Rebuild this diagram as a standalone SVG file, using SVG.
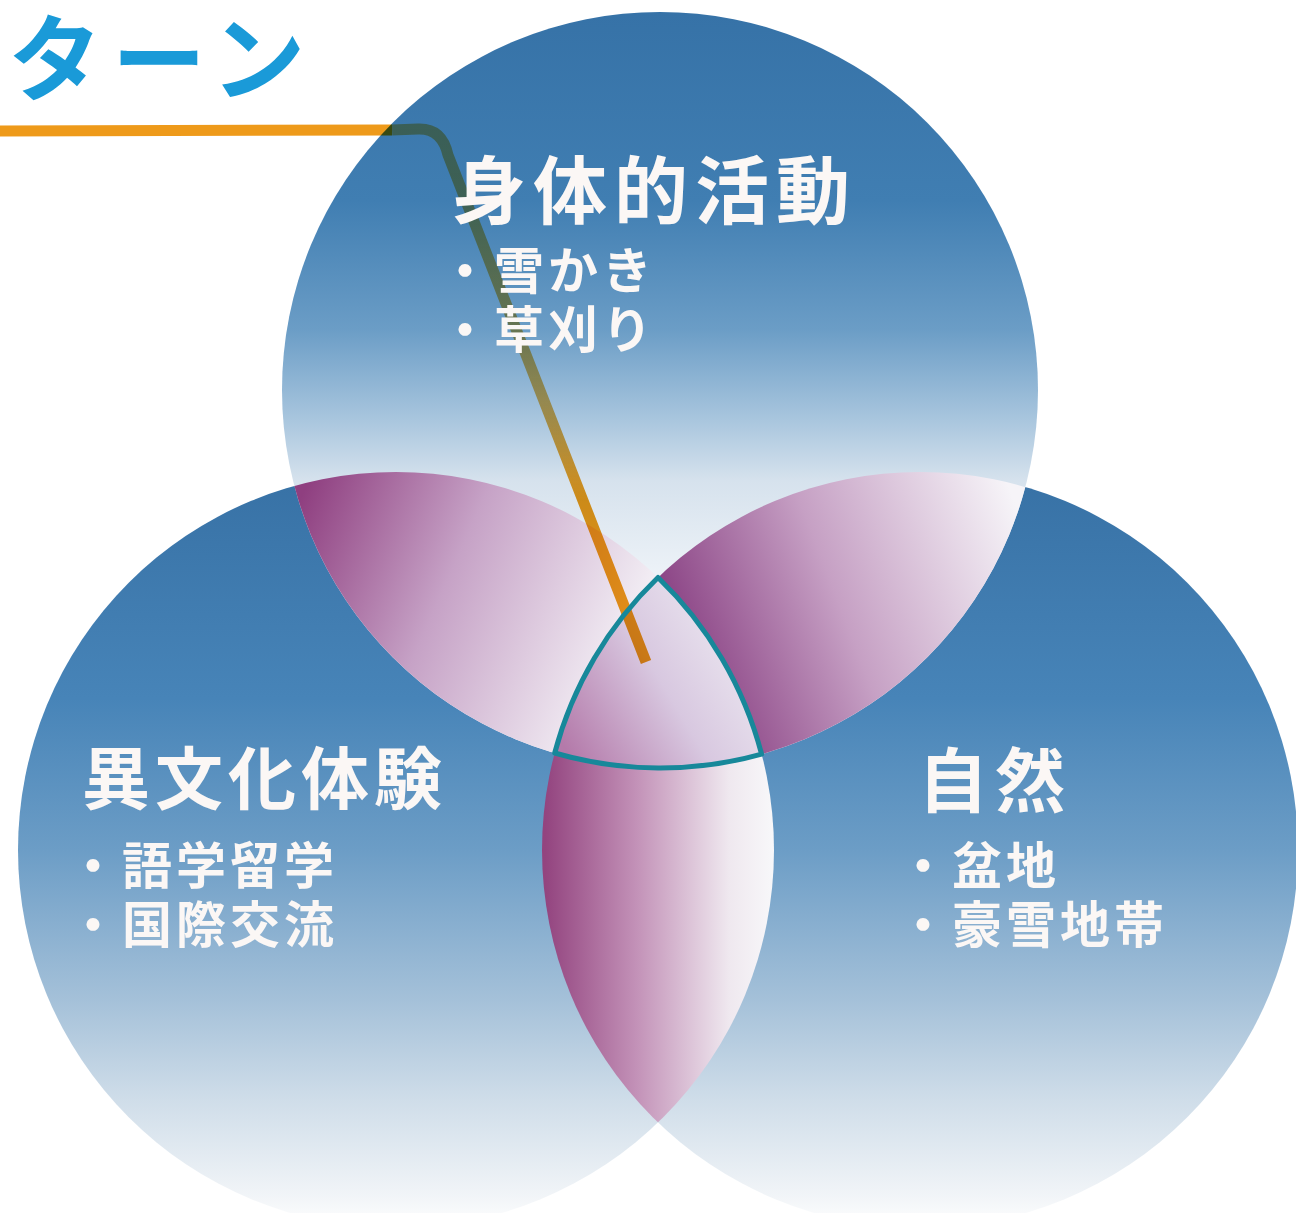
<svg xmlns="http://www.w3.org/2000/svg" width="1296" height="1213" viewBox="0 0 1296 1213">
  <style>
    .title { font-family: "Noto Sans CJK JP", "Noto Sans", sans-serif; font-weight: 700; fill: #1a9ad8; }
    .head { font-family: "Noto Sans CJK JP", "Noto Sans", sans-serif; font-weight: 700; fill: #fbf7f5; }
    .item { font-family: "Noto Sans CJK JP", "Noto Sans", sans-serif; font-weight: 700; fill: #fbf7f5; font-size: 50px; letter-spacing: 4px; }
    .line { fill: none; stroke-width: 11; mix-blend-mode: multiply; }
  </style>
  <defs>
    <linearGradient id="gTop" x1="0" y1="0" x2="0" y2="1">
      <stop offset="0" stop-color="#3672a7"/>
      <stop offset="0.25" stop-color="#407eb2"/>
      <stop offset="0.42" stop-color="#6b9dc6"/>
      <stop offset="0.54" stop-color="#a9c6de"/>
      <stop offset="0.62" stop-color="#d6e2ed"/>
      <stop offset="0.75" stop-color="#eef3f8"/>
      <stop offset="1" stop-color="#f8fafc"/>
    </linearGradient>
    <linearGradient id="gSide" x1="0" y1="0" x2="0" y2="1">
      <stop offset="0" stop-color="#3771a5"/>
      <stop offset="0.3" stop-color="#4784b8"/>
      <stop offset="0.5" stop-color="#6c9dc6"/>
      <stop offset="0.7" stop-color="#a5c1d9"/>
      <stop offset="0.83" stop-color="#cfdde9"/>
      <stop offset="0.96" stop-color="#f2f5f8"/>
      <stop offset="1" stop-color="#ffffff"/>
    </linearGradient>
    <linearGradient id="gTL" gradientUnits="userSpaceOnUse" x1="300" y1="500" x2="640" y2="650">
      <stop offset="0" stop-color="#8f3f80"/>
      <stop offset="0.45" stop-color="#c6a2c6"/>
      <stop offset="1" stop-color="#f6f4f8"/>
    </linearGradient>
    <linearGradient id="gTR" gradientUnits="userSpaceOnUse" x1="670" y1="620" x2="1010" y2="490">
      <stop offset="0" stop-color="#8a4284"/>
      <stop offset="0.45" stop-color="#c6a0c4"/>
      <stop offset="1" stop-color="#f6f4f8"/>
    </linearGradient>
    <linearGradient id="gB" gradientUnits="userSpaceOnUse" x1="545" y1="850" x2="775" y2="850">
      <stop offset="0" stop-color="#93447f"/>
      <stop offset="0.4" stop-color="#c392b8"/>
      <stop offset="0.8" stop-color="#efe8ef"/>
      <stop offset="1" stop-color="#f8f8fa"/>
    </linearGradient>
    <linearGradient id="gC" gradientUnits="userSpaceOnUse" x1="560" y1="740" x2="760" y2="620">
      <stop offset="0" stop-color="#b47aaa"/>
      <stop offset="0.5" stop-color="#d8c8e0"/>
      <stop offset="1" stop-color="#f0eef4"/>
    </linearGradient>
    <linearGradient id="gLine" gradientUnits="userSpaceOnUse" x1="0" y1="120" x2="0" y2="680">
      <stop offset="0" stop-color="#ee9a1a" stop-opacity="0.55"/>
      <stop offset="0.5" stop-color="#ee9a1a" stop-opacity="0.7"/>
      <stop offset="0.68" stop-color="#ee9a1a" stop-opacity="1"/>
      <stop offset="1" stop-color="#ee9a1a" stop-opacity="1"/>
    </linearGradient>
    <clipPath id="clipL"><circle cx="396" cy="850" r="378"/></clipPath>
    <clipPath id="clipR"><circle cx="920" cy="850" r="378"/></clipPath>
  </defs>

  <rect width="1296" height="1213" fill="#ffffff"/>

  <g id="title">
    <text class="title" x="8" y="94" font-size="94" letter-spacing="10">ターン</text>
  </g>

  <g id="node-left">
    <circle cx="396" cy="850" r="378" fill="url(#gSide)"/>
  </g>
  <g id="node-right">
    <circle cx="920" cy="850" r="378" fill="url(#gSide)"/>
  </g>
  <g id="node-top">
    <circle cx="660" cy="390" r="378" fill="url(#gTop)"/>
  </g>

  <g id="overlaps">
    <circle cx="660" cy="390" r="378" fill="url(#gTL)" clip-path="url(#clipL)"/>
    <circle cx="660" cy="390" r="378" fill="url(#gTR)" clip-path="url(#clipR)"/>
    <circle cx="396" cy="850" r="378" fill="url(#gB)" clip-path="url(#clipR)"/>
    <path d="M658,577.5 A378,378 0 0 0 554.7,753 A378,378 0 0 0 761.6,754.1 A378,378 0 0 0 658,577.5 Z" fill="url(#gC)"/>
  </g>

  <g id="connectors">
    <path class="line" d="M0,131 L392,130" stroke="#ee9a1a" stroke-width="12"/>
    <path class="line" d="M392,130 L418,129 Q442,128 448,155 L646,662" stroke="url(#gLine)"/>
    <path d="M658,577.5 A378,378 0 0 0 554.7,753 A378,378 0 0 0 761.6,754.1 A378,378 0 0 0 658,577.5 Z" fill="none" stroke="#17889a" stroke-width="5" stroke-linejoin="round"/>
  </g>

  <g id="label-top">
    <text class="head" x="452" y="218" font-size="74" letter-spacing="7">身体的活動</text>
    <text class="item" x="440" y="289">・雪かき</text>
    <text class="item" x="440" y="348">・草刈り</text>
  </g>
  <g id="label-left">
    <text class="head" x="82" y="804" font-size="68" letter-spacing="5">異文化体験</text>
    <text class="item" x="68" y="884">・語学留学</text>
    <text class="item" x="68" y="943">・国際交流</text>
  </g>
  <g id="label-right">
    <text class="head" x="918" y="807" font-size="70" letter-spacing="7">自然</text>
    <text class="item" x="898" y="884">・盆地</text>
    <text class="item" x="898" y="943">・豪雪地帯</text>
  </g>
</svg>
